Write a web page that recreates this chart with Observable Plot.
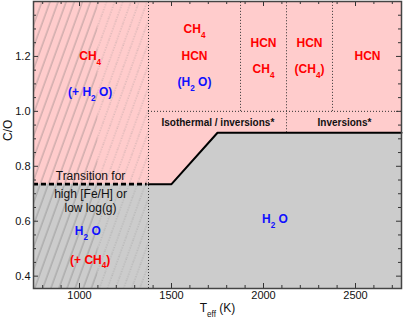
<!DOCTYPE html>
<html><head><meta charset="utf-8">
<script src="https://cdn.jsdelivr.net/npm/d3@7"></script>
<script src="https://cdn.jsdelivr.net/npm/@observablehq/plot@0.6"></script>
<style>
body{margin:0;background:#fff}
svg{display:block}
</style>
</head><body><div id="chart"></div>
<script>
// ---- data ----
const tempDomain = [750, 2750];
const coDomain = [0.355, 1.40];
const xMajorTicks = [1000, 1500, 2000, 2500];
const xMinorTicks = [800, 900, 1100, 1200, 1300, 1400, 1600, 1700, 1800, 1900, 2100, 2200, 2300, 2400, 2600, 2700];
const yMajorTicks = [0.4, 0.6, 0.8, 1.0, 1.2];
const yMinorTicks = [0.45, 0.5, 0.55, 0.65, 0.7, 0.75, 0.85, 0.9, 0.95, 1.05, 1.1, 1.15, 1.25, 1.3, 1.35];

// boundary between H2O-dominated (below) and carbon-rich (above)
const boundaryT  = [750, 1375, 1500, 1750, 2750];
const boundaryCO = [0.735, 0.735, 0.735, 0.922, 0.922];
const transitionEndT = 1368; // dashed part ends just before the divider

// hatched cool region
const hatchSolidT = [750, 1100];
const hatchDottedT = [1100, 1375];

// dotted dividers
const dividerT   = [1375, 1875, 2125, 2375];
const dividerLow = [0.355, 1.0, 0.922, 1.0];
const dividerCO = 1.0;
const dividerFromT = 1375;

// species labels
const redText = ["CH_4", "CH_4", "HCN", "HCN", "CH_4", "HCN", "(CH_4)", "HCN", "(+ CH_4)"];
const redT    = [1058, 1625, 1625, 2000, 2000, 2250, 2250, 2565, 1058];
const redCO   = [1.20, 1.30, 1.20, 1.25, 1.155, 1.25, 1.155, 1.20, 0.46];

const blueText = ["(+ H_2 O)", "(H_2 O)", "H_2 O", "H_2 O"];
const blueT    = [1058, 1625, 1045, 2062];
const blueCO   = [1.07, 1.105, 0.562, 0.608];

const regimeText = ["Isothermal / inversions*", "Inversions*"];
const regimeT    = [1752, 2440];
const regimeCO   = [0.96, 0.96];

const noteText = ["Transition for", "high [Fe/H] or", "low log(g)"];
const noteT    = [1060, 1060, 1060];
const noteCO   = [0.763, 0.697, 0.646];

const xLabel = "T_{eff} (K)";
const yLabel = "C/O";

// ---- build ----
const boundary = boundaryT.map((t, i) => ({t, co: boundaryCO[i]}));
const solidPart = boundary.filter(d => d.t >= boundaryT[1]);
const dashed = [{x1: boundaryT[0], x2: transitionEndT, co: boundaryCO[0]}];
const dividers = dividerT.map((t, i) => ({t, lo: dividerLow[i], hi: coDomain[1]}));
const zip = (txt, ts, cs) => txt.map((s, i) => ({s, t: ts[i], co: cs[i]}));
const reds = zip(redText, redT, redCO);
const blues = zip(blueText, blueT, blueCO);
const regimes = zip(regimeText, regimeT, regimeCO);
const notes = zip(noteText, noteT, noteCO);

const W = 403, H = 317, mL = 33, mR = 2, mT = 1, mB = 29;
const fw = W - mL - mR, fh = H - mT - mB;
const axisColor = "#333";

const chart = Plot.plot({
  width: W, height: H,
  marginLeft: mL, marginRight: mR, marginTop: mT, marginBottom: mB,
  style: {fontFamily: "'Liberation Sans', Arial, sans-serif", fontSize: "11px", background: "#fff"},
  x: {domain: tempDomain},
  y: {domain: coDomain},
  marks: [
    Plot.rect([0], {x1: tempDomain[0], x2: tempDomain[1], y1: coDomain[0], y2: coDomain[1], fill: "#ffcccc"}),
    Plot.areaY(boundary, {x: "t", y1: coDomain[0], y2: "co", fill: "#cccccc"}),
    Plot.rect([0], {x1: hatchSolidT[0], x2: hatchSolidT[1], y1: coDomain[0], y2: coDomain[1], fill: "url(#hatchSolid)"}),
    Plot.rect([0], {x1: hatchDottedT[0], x2: hatchDottedT[1], y1: coDomain[0], y2: coDomain[1], fill: "url(#hatchDotted)"}),
    Plot.ruleX(dividers, {x: "t", y1: "lo", y2: "hi", stroke: "#333", strokeWidth: 1, strokeDasharray: "1,2"}),
    Plot.ruleY([dividerCO], {x1: dividerFromT, x2: tempDomain[1], stroke: "#333", strokeWidth: 1, strokeDasharray: "1,2"}),
    Plot.ruleY(dashed, {y: "co", x1: "x1", x2: "x2", stroke: "#000", strokeWidth: 2.6, strokeDasharray: "5,3"}),
    Plot.line(solidPart, {x: "t", y: "co", stroke: "#000", strokeWidth: 2}),
    Plot.text(reds, {x: "t", y: "co", text: "s", fill: "#ff0000", fontSize: 12, fontWeight: "bold"}),
    Plot.text(blues, {x: "t", y: "co", text: "s", fill: "#1010ff", fontSize: 12, fontWeight: "bold"}),
    Plot.text(regimes, {x: "t", y: "co", text: "s", fill: "#111", fontSize: 10, fontWeight: "bold"}),
    Plot.text(notes, {x: "t", y: "co", text: "s", fill: "#111", fontSize: 12}),
    // ticks on all four sides, pointing inward
    Plot.tickX(xMajorTicks, {x: d => d, stroke: axisColor, insetTop: fh - 5}),
    Plot.tickX(xMajorTicks, {x: d => d, stroke: axisColor, insetBottom: fh - 5}),
    Plot.tickX(xMinorTicks, {x: d => d, stroke: axisColor, insetTop: fh - 3}),
    Plot.tickX(xMinorTicks, {x: d => d, stroke: axisColor, insetBottom: fh - 3}),
    Plot.tickY(yMajorTicks, {y: d => d, stroke: axisColor, insetRight: fw - 5}),
    Plot.tickY(yMajorTicks, {y: d => d, stroke: axisColor, insetLeft: fw - 5}),
    Plot.tickY(yMinorTicks, {y: d => d, stroke: axisColor, insetRight: fw - 3}),
    Plot.tickY(yMinorTicks, {y: d => d, stroke: axisColor, insetLeft: fw - 3}),
    Plot.axisX(xMajorTicks, {tickSize: 0, tickPadding: 3, tickFormat: d3.format("d"), label: null, fontSize: 11, fill: "#111"}),
    Plot.axisY(yMajorTicks, {tickSize: 0, tickPadding: 3, tickFormat: d3.format(".1f"), label: null, fontSize: 11, fill: "#111"}),
    Plot.text([xLabel], {frameAnchor: "bottom", dy: 23, fontSize: 12, fill: "#111"}),
    Plot.text([yLabel], {frameAnchor: "left", dx: -25, dy: -4, rotate: -90, fontSize: 12, fill: "#111"}),
    Plot.frame({stroke: "#444", strokeWidth: 1.5})
  ]
});

// hatch patterns
const ns = "http://www.w3.org/2000/svg";
const defs = document.createElementNS(ns, "defs");
defs.innerHTML = `
<pattern id="hatchSolid" patternUnits="userSpaceOnUse" width="7.6" height="20" patternTransform="rotate(20)">
  <line x1="2" y1="0" x2="2" y2="20" stroke="#666" stroke-opacity="0.7" stroke-width="0.7"/>
</pattern>
<pattern id="hatchDotted" patternUnits="userSpaceOnUse" width="7.6" height="20" patternTransform="rotate(20)">
  <line x1="2" y1="0" x2="2" y2="20" stroke="#888" stroke-opacity="0.6" stroke-width="0.8" stroke-dasharray="1.2,1.4"/>
</pattern>`;
chart.insertBefore(defs, chart.firstChild);

// subscripts: "_x" or "_{xyz}"
chart.querySelectorAll("text").forEach(el => {
  const s = el.textContent;
  if (!s.includes("_")) return;
  el.textContent = "";
  const re = /_(?:\{([^}]*)\}|(.))/g;
  let last = 0, m;
  const add = (str, sub) => {
    const t = document.createElementNS(ns, "tspan");
    t.textContent = str;
    if (sub) { t.setAttribute("baseline-shift", "sub"); t.setAttribute("font-size", "68%"); }
    el.appendChild(t);
  };
  while ((m = re.exec(s))) {
    if (m.index > last) add(s.slice(last, m.index), false);
    add(m[1] ?? m[2], true);
    last = re.lastIndex;
  }
  if (last < s.length) add(s.slice(last), false);
});

document.getElementById("chart").appendChild(chart);
</script>
</body></html>
